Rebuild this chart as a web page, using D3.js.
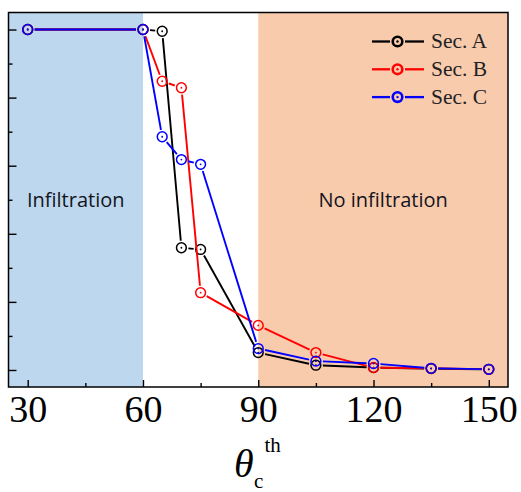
<!doctype html>
<html lang="en">
<head>
  <meta charset="utf-8">
  <title>Infiltration vs contact angle</title>
  <script src="https://d3js.org/d3.v7.min.js"></script>
  <style>
    body { margin: 0; background: #fff; }
    svg { display: block; }
  </style>
</head>
<body>
<svg id="chart" width="521" height="492"></svg>
<script>
// data
const theta = [30, 60, 65, 70, 75, 90, 105, 120, 135, 150];
const secA = [1.0, 1.0, 0.995, 0.359, 0.354, 0.051, 0.014, 0.007, 0.004, 0.002];
const secB = [1.0, 1.0, 0.848, 0.829, 0.227, 0.131, 0.051, 0.007, 0.005, 0.002];
const secC = [1.0, 1.0, 0.685, 0.618, 0.604, 0.063, 0.026, 0.019, 0.005, 0.002];
const seriesNames = ["Sec. A", "Sec. B", "Sec. C"];
const seriesColors = ["#000000", "#ff0000", "#0000ff"];
const xMajor = [30, 60, 90, 120, 150];
const xMinor = [45, 75, 105, 135];
const yMajor = [0, 0.2, 0.4, 0.6, 0.8, 1.0];
const yMinor = [0.1, 0.3, 0.5, 0.7, 0.9];
const regions = [
  {from: 25, to: 60, color: "#bdd7ee", label: "Infiltration"},
  {from: 90, to: 155, color: "#f8cbad", label: "No infiltration"}
];

const svg = d3.select("#chart");
const pLeft = 8.5, pRight = 508, pTop = 12.5, pBottom = 387;

const x = d3.scaleLinear().domain([25, 155]).range([pLeft, pRight]);
const y = d3.scaleLinear().domain([-0.05, 1.05]).range([pBottom, pTop]);

// shaded regions
svg.selectAll("rect.region")
  .data(regions)
  .enter()
  .append("rect")
  .attr("class", "region")
  .attr("x", d => x(d.from))
  .attr("y", pTop)
  .attr("width", d => x(d.to) - x(d.from))
  .attr("height", pBottom - pTop)
  .attr("fill", d => d.color);

svg.selectAll("text.region")
  .data(regions)
  .enter()
  .append("text")
  .attr("class", "region")
  .attr("x", d => (x(d.from) + x(d.to)) / 2)
  .attr("y", 207)
  .attr("text-anchor", "middle")
  .attr("font-family", "'Open Sans', 'Noto Sans', sans-serif")
  .attr("font-size", 20)
  .attr("fill", "#141420")
  .text(d => d.label);

// axes: ticks point inward
function styleAxis(g) {
  g.select(".domain").remove();
  g.selectAll(".tick line").attr("stroke", "#000").attr("stroke-width", 1.4);
}

svg.append("g")
  .attr("transform", `translate(0,${pBottom})`)
  .call(d3.axisBottom(x).tickValues(xMajor).tickSize(-7).tickPadding(8).tickFormat(d3.format("d")))
  .call(styleAxis)
  .call(g => g.selectAll(".tick text")
    .attr("font-family", "'Liberation Serif', 'Times New Roman', serif")
    .attr("font-size", 38)
    .attr("fill", "#000")
    .attr("dy", "0.71em"));

svg.append("g")
  .attr("transform", `translate(0,${pBottom})`)
  .call(d3.axisBottom(x).tickValues(xMinor).tickSize(-4).tickFormat(""))
  .call(styleAxis);

svg.append("g")
  .attr("transform", `translate(${pLeft},0)`)
  .call(d3.axisLeft(y).tickValues(yMajor).tickSize(-8).tickFormat(""))
  .call(styleAxis);

svg.append("g")
  .attr("transform", `translate(${pLeft},0)`)
  .call(d3.axisLeft(y).tickValues(yMinor).tickSize(-4).tickFormat(""))
  .call(styleAxis);

// series
const series = [secA, secB, secC].map((vals, i) => ({
  name: seriesNames[i],
  color: seriesColors[i],
  pts: theta.map((t, j) => [x(t), y(vals[j])])
}));

const gap = 7;
series.forEach(s => {
  const g = svg.append("g");
  for (let i = 0; i < s.pts.length - 1; i++) {
    const [x1, y1] = s.pts[i], [x2, y2] = s.pts[i + 1];
    const len = Math.hypot(x2 - x1, y2 - y1);
    if (len <= 2 * gap) continue;
    const ux = (x2 - x1) / len, uy = (y2 - y1) / len;
    g.append("line")
      .attr("x1", x1 + ux * gap).attr("y1", y1 + uy * gap)
      .attr("x2", x2 - ux * gap).attr("y2", y2 - uy * gap)
      .attr("stroke", s.color)
      .attr("stroke-width", 1.9);
  }
  g.selectAll("circle.m")
    .data(s.pts)
    .enter()
    .append("circle")
    .attr("class", "m")
    .attr("cx", d => d[0]).attr("cy", d => d[1])
    .attr("r", 4.9)
    .attr("fill", "none")
    .attr("stroke", s.color)
    .attr("stroke-width", 1.5);
  g.selectAll("circle.c")
    .data(s.pts)
    .enter()
    .append("circle")
    .attr("class", "c")
    .attr("cx", d => d[0]).attr("cy", d => d[1])
    .attr("r", 0.9)
    .attr("fill", s.color);
});

// frame
svg.append("rect")
  .attr("x", pLeft).attr("y", pTop)
  .attr("width", pRight - pLeft).attr("height", pBottom - pTop)
  .attr("fill", "none")
  .attr("stroke", "#000")
  .attr("stroke-width", 1.5);

// legend
const legend = svg.append("g");
series.forEach((s, i) => {
  const ly = 41.5 + i * 27.8;
  const row = legend.append("g");
  row.append("line").attr("x1", 372).attr("x2", 390).attr("y1", ly).attr("y2", ly)
    .attr("stroke", s.color).attr("stroke-width", 2.3);
  row.append("line").attr("x1", 405).attr("x2", 424).attr("y1", ly).attr("y2", ly)
    .attr("stroke", s.color).attr("stroke-width", 2.3);
  row.append("circle").attr("cx", 397.5).attr("cy", ly).attr("r", 4.8)
    .attr("fill", "none").attr("stroke", s.color).attr("stroke-width", 2.6);
  row.append("circle").attr("cx", 397.5).attr("cy", ly).attr("r", 1.2).attr("fill", s.color);
  row.append("text").attr("x", 431).attr("y", ly + 6.5)
    .attr("font-family", "'Liberation Serif', 'Times New Roman', serif")
    .attr("font-size", 21.5)
    .attr("fill", "#222")
    .text(s.name);
});

// axis title: theta_c^th
const title = svg.append("text")
  .attr("font-family", "'Liberation Serif', 'Times New Roman', serif")
  .attr("fill", "#000");
title.append("tspan").attr("x", 234).attr("y", 477).attr("font-size", 40).attr("font-style", "italic").text("θ");
title.append("tspan").attr("x", 254).attr("y", 488).attr("font-size", 21).text("c");
title.append("tspan").attr("x", 264.5).attr("y", 451.5).attr("font-size", 21).text("th");
</script>
</body>
</html>
